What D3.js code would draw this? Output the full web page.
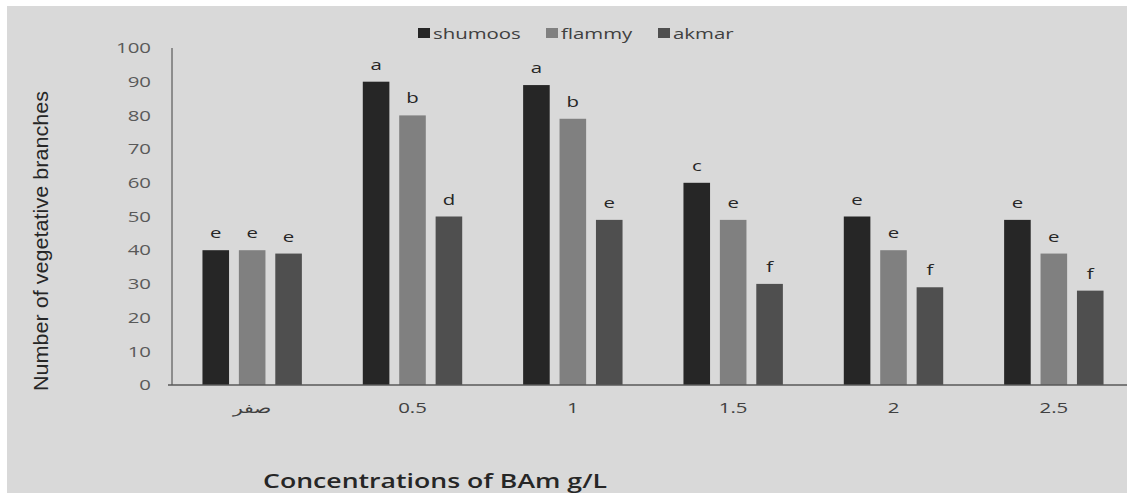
<!DOCTYPE html>
<html>
<head>
<meta charset="utf-8">
<script src="https://cdn.jsdelivr.net/npm/d3@7"></script>
<style>
  body { margin: 0; background: #fff; }
  svg { display: block; }
</style>
</head>
<body>
<div class="app"></div>
<script>
// data
var categories = ["صفر", "0.5", "1", "1.5", "2", "2.5"];
var seriesNames = ["shumoos", "flammy", "akmar"];
var shumoos = [40, 90, 89, 60, 50, 49];
var flammy  = [40, 80, 79, 49, 40, 39];
var akmar   = [39, 50, 49, 30, 29, 28];
var shumoosLetters = ["e", "a", "a", "c", "e", "e"];
var flammyLetters  = ["e", "b", "b", "e", "e", "e"];
var akmarLetters   = ["e", "d", "e", "f", "f", "f"];
var yTicks = [0, 10, 20, 30, 40, 50, 60, 70, 80, 90, 100];

var colors = {shumoos: "#262626", flammy: "#808080", akmar: "#4f4f4f"};
var values = {shumoos: shumoos, flammy: flammy, akmar: akmar};
var letters = {shumoos: shumoosLetters, flammy: flammyLetters, akmar: akmarLetters};

var W = 1127, H = 493;
var plot = {left: 172, right: 1134, top: 48, bottom: 385};
var stretch = 1.36; // the original picture's text is widened

function at(px, py) { return "translate(" + px + "," + py + ") scale(" + stretch + ",1)"; }

var svg = d3.select(".app").append("svg")
    .attr("width", W)
    .attr("height", H);

// grey chart area
svg.append("rect")
    .attr("x", 7).attr("y", 6)
    .attr("width", W - 7).attr("height", H - 6)
    .attr("fill", "#d9d9d9");

// scales
var x = d3.scaleBand().domain(categories).range([plot.left, plot.right])
    .paddingInner(0.38).paddingOuter(0.19);
var xs = d3.scaleBand().domain(seriesNames).range([0, x.bandwidth()]).paddingInner(0.27);
var y = d3.scaleLinear().domain([0, 100]).range([plot.bottom, plot.top]);

// y tick labels
svg.append("g").selectAll("text")
    .data(yTicks)
    .enter().append("text")
    .attr("transform", function(d) { return at(151, y(d)); })
    .attr("dy", "0.35em")
    .attr("text-anchor", "end")
    .attr("font-family", "Open Sans, sans-serif")
    .attr("font-size", 15)
    .attr("fill", "#595959")
    .text(function(d) { return d; });

// bars
var groups = svg.append("g").selectAll("g")
    .data(categories)
    .enter().append("g")
    .attr("transform", function(d) { return "translate(" + x(d) + ",0)"; });

seriesNames.forEach(function(s) {
  groups.append("rect")
      .attr("x", xs(s))
      .attr("width", xs.bandwidth())
      .attr("y", function(d, i) { return y(values[s][i]); })
      .attr("height", function(d, i) { return plot.bottom - y(values[s][i]); })
      .attr("fill", colors[s]);
  groups.append("text")
      .attr("transform", function(d, i) { return at(xs(s) + xs.bandwidth() / 2, y(values[s][i]) - 12); })
      .attr("text-anchor", "middle")
      .attr("font-family", "Open Sans, sans-serif")
      .attr("font-size", 15)
      .attr("fill", "#262626")
      .text(function(d, i) { return letters[s][i]; });
});

// axes lines
svg.append("line")
    .attr("x1", plot.left).attr("x2", plot.left)
    .attr("y1", plot.top).attr("y2", plot.bottom)
    .attr("stroke", "#404040").attr("stroke-width", 1);
svg.append("line")
    .attr("x1", plot.left - 4).attr("x2", W)
    .attr("y1", plot.bottom).attr("y2", plot.bottom)
    .attr("stroke", "#595959").attr("stroke-width", 1.5);

// x tick labels
svg.append("g").selectAll("text")
    .data(categories)
    .enter().append("text")
    .attr("transform", function(d) { return at(x(d) + x.bandwidth() / 2, 413); })
    .attr("text-anchor", "middle")
    .attr("font-family", "Open Sans, sans-serif")
    .attr("font-size", 15)
    .attr("fill", "#404040")
    .text(function(d) { return d; });

// axis titles
svg.append("text")
    .attr("transform", "translate(48,241)rotate(-90)")
    .attr("text-anchor", "middle")
    .attr("font-family", "Liberation Sans, Arial, sans-serif")
    .attr("font-size", 21)
    .attr("textLength", 300)
    .attr("lengthAdjust", "spacingAndGlyphs")
    .attr("fill", "#262626")
    .text("Number of vegetative branches");

svg.append("text")
    .attr("x", 435)
    .attr("y", 488)
    .attr("text-anchor", "middle")
    .attr("font-family", "Open Sans, sans-serif")
    .attr("font-size", 19)
    .attr("font-weight", 600)
    .attr("textLength", 344)
    .attr("lengthAdjust", "spacingAndGlyphs")
    .attr("fill", "#262626")
    .text("Concentrations of BAm g/L");

// legend
var legendX = [418, 546, 658];
var legend = svg.append("g").selectAll("g")
    .data(seriesNames)
    .enter().append("g")
    .attr("transform", function(d, i) { return "translate(" + legendX[i] + ",28)"; });
legend.append("rect")
    .attr("width", 12).attr("height", 10)
    .attr("fill", function(d) { return colors[d]; });
legend.append("text")
    .attr("transform", at(15, 11))
    .attr("font-family", "Open Sans, sans-serif")
    .attr("font-size", 15)
    .attr("fill", "#404040")
    .text(function(d) { return d; });
</script>
</body>
</html>
